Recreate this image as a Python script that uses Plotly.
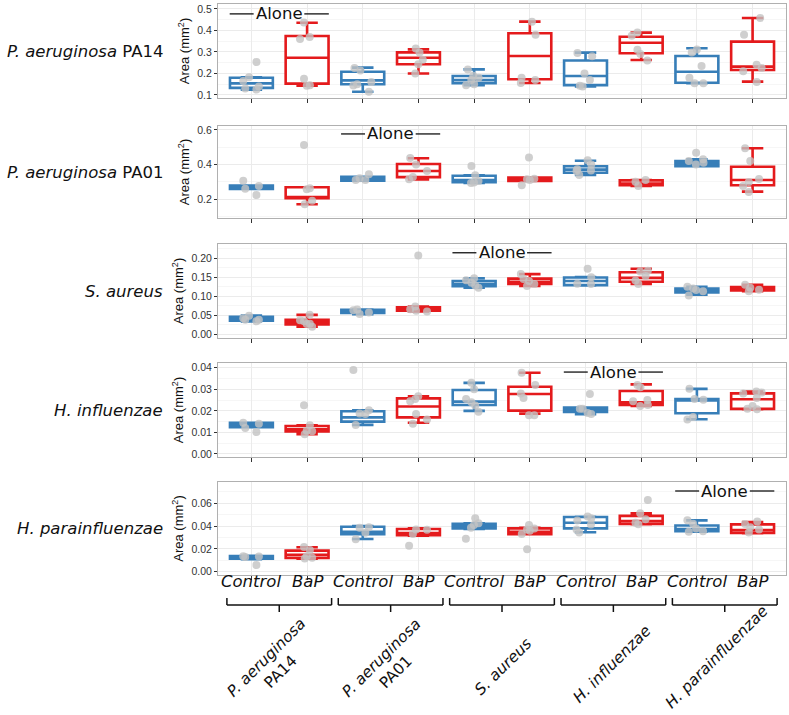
import plotly.graph_objects as go
from plotly.subplots import make_subplots

# ---- data ----
group_labels = ["<i>P. aeruginosa</i><br>PA14", "<i>P. aeruginosa</i><br>PA01",
                "<i>S. aureus</i>", "<i>H. influenzae</i>", "<i>H. parainfluenzae</i>"]
row_labels = ["<i>P. aeruginosa</i> PA14", "<i>P. aeruginosa</i> PA01",
              "<i>S. aureus</i>", "<i>H. influenzae</i>", "<i>H. parainfluenzae</i>"]
conditions = ["Control", "BaP"]

# order of each list: Ctrl/BaP for PA14, PA01, S.aureus, H.infl, H.parainfl
pa14_q1 = [0.133, 0.153, 0.150, 0.243, 0.155, 0.173, 0.146, 0.294, 0.157, 0.216]
pa14_med = [0.154, 0.273, 0.168, 0.273, 0.170, 0.281, 0.188, 0.343, 0.208, 0.232]
pa14_q3 = [0.180, 0.374, 0.208, 0.298, 0.188, 0.387, 0.260, 0.371, 0.281, 0.348]
pa14_lo = [0.125, 0.143, 0.115, 0.200, 0.145, 0.156, 0.140, 0.263, 0.155, 0.162]
pa14_hi = [0.182, 0.436, 0.227, 0.312, 0.219, 0.441, 0.297, 0.390, 0.317, 0.458]
pa14_pts = [[0.253, 0.182, 0.165, 0.125, 0.13, 0.14],
            [0.437, 0.36, 0.37, 0.175, 0.143, 0.145],
            [0.214, 0.226, 0.144, 0.16, 0.15, 0.115],
            [0.316, 0.264, 0.298, 0.243, 0.2],
            [0.219, 0.19, 0.18, 0.17, 0.145, 0.15],
            [0.44, 0.38, 0.18, 0.17, 0.156],
            [0.295, 0.28, 0.2, 0.17, 0.14, 0.143],
            [0.39, 0.375, 0.31, 0.26, 0.29],
            [0.312, 0.297, 0.235, 0.18, 0.155, 0.155],
            [0.458, 0.38, 0.24, 0.225, 0.21, 0.16]]

pa01_q1 = [0.258, 0.204, 0.306, 0.327, 0.297, 0.305, 0.352, 0.280, 0.390, 0.280]
pa01_med = [0.268, 0.212, 0.318, 0.362, 0.310, 0.315, 0.370, 0.290, 0.405, 0.310]
pa01_q3 = [0.278, 0.268, 0.329, 0.403, 0.335, 0.325, 0.390, 0.308, 0.420, 0.387]
pa01_lo = [0.258, 0.170, 0.306, 0.314, 0.293, 0.305, 0.340, 0.275, 0.390, 0.243]
pa01_hi = [0.278, 0.268, 0.329, 0.436, 0.337, 0.325, 0.422, 0.310, 0.430, 0.494]
pa01_pts = [[0.306, 0.26, 0.223, 0.275],
            [0.513, 0.256, 0.262, 0.19, 0.169],
            [0.31, 0.343, 0.31, 0.32],
            [0.438, 0.40, 0.362, 0.327, 0.314],
            [0.391, 0.337, 0.305, 0.295, 0.293],
            [0.44, 0.317, 0.31, 0.315, 0.28],
            [0.425, 0.40, 0.372, 0.362, 0.339, 0.365],
            [0.30, 0.31, 0.275],
            [0.468, 0.42, 0.41, 0.43, 0.40],
            [0.494, 0.42, 0.316, 0.298, 0.275, 0.24]]

sa_q1 = [0.036, 0.026, 0.056, 0.062, 0.126, 0.132, 0.129, 0.138, 0.110, 0.115]
sa_med = [0.040, 0.032, 0.060, 0.066, 0.132, 0.138, 0.140, 0.148, 0.115, 0.120]
sa_q3 = [0.046, 0.038, 0.064, 0.071, 0.140, 0.146, 0.149, 0.163, 0.120, 0.124]
sa_lo = [0.034, 0.020, 0.053, 0.060, 0.122, 0.127, 0.128, 0.132, 0.104, 0.113]
sa_hi = [0.049, 0.051, 0.065, 0.073, 0.147, 0.158, 0.150, 0.172, 0.125, 0.130]
sa_pts = [[0.034, 0.038, 0.049, 0.038, 0.042],
          [0.027, 0.02, 0.051, 0.037, 0.028, 0.034],
          [0.065, 0.053, 0.063, 0.057],
          [0.207, 0.073, 0.06, 0.062, 0.066],
          [0.147, 0.142, 0.128, 0.122, 0.135],
          [0.158, 0.14, 0.127, 0.132, 0.145],
          [0.172, 0.15, 0.132, 0.133],
          [0.165, 0.167, 0.153, 0.141, 0.132],
          [0.125, 0.102, 0.116, 0.12, 0.113],
          [0.13, 0.113, 0.117, 0.122]]

hi_q1 = [0.0124, 0.0105, 0.0150, 0.0170, 0.0227, 0.0201, 0.0195, 0.0228, 0.0189, 0.0209]
hi_med = [0.0135, 0.0115, 0.0170, 0.0220, 0.0243, 0.0278, 0.0205, 0.0240, 0.0248, 0.0254]
hi_q3 = [0.0145, 0.0130, 0.0198, 0.0258, 0.0297, 0.0312, 0.0215, 0.0292, 0.0255, 0.0281]
hi_lo = [0.0124, 0.0092, 0.0135, 0.0145, 0.0200, 0.0187, 0.0185, 0.0223, 0.0161, 0.0208]
hi_hi = [0.0145, 0.0133, 0.0203, 0.0268, 0.0330, 0.0377, 0.0215, 0.0323, 0.0302, 0.0290]
hi_pts = [[0.0102, 0.012, 0.014, 0.0145],
          [0.0092, 0.0226, 0.0133, 0.0108, 0.0106],
          [0.039, 0.0203, 0.0185, 0.0188, 0.0135],
          [0.0268, 0.0245, 0.0255, 0.0185, 0.016, 0.014],
          [0.033, 0.030, 0.0255, 0.024, 0.0225, 0.0196],
          [0.0377, 0.032, 0.028, 0.026, 0.018, 0.018],
          [0.0278, 0.021, 0.021, 0.019, 0.0185],
          [0.032, 0.031, 0.0245, 0.025, 0.0227, 0.0223],
          [0.0302, 0.0255, 0.0252, 0.0172, 0.016],
          [0.028, 0.029, 0.0285, 0.026, 0.0222, 0.0208, 0.021]]

hp_q1 = [0.0115, 0.0120, 0.0328, 0.0320, 0.0380, 0.0330, 0.0380, 0.0420, 0.0355, 0.0340]
hp_med = [0.0125, 0.0148, 0.0350, 0.0340, 0.0400, 0.0350, 0.0430, 0.0445, 0.0375, 0.0365]
hp_q3 = [0.0138, 0.0185, 0.0395, 0.0375, 0.0420, 0.0380, 0.0480, 0.0490, 0.0405, 0.0415]
hp_lo = [0.0110, 0.0115, 0.0287, 0.0316, 0.0374, 0.0330, 0.0346, 0.0416, 0.0351, 0.0337]
hp_hi = [0.0140, 0.0214, 0.0400, 0.0381, 0.0424, 0.0386, 0.0482, 0.0512, 0.0450, 0.0435]
hp_pts = [[0.0136, 0.0059, 0.0133, 0.013],
          [0.0216, 0.019, 0.0122, 0.0135, 0.0115],
          [0.039, 0.0385, 0.0342, 0.0285],
          [0.0368, 0.037, 0.033, 0.0228],
          [0.0425, 0.041, 0.047, 0.0385, 0.029],
          [0.041, 0.038, 0.033, 0.0197, 0.037, 0.036],
          [0.0485, 0.047, 0.045, 0.0415, 0.037, 0.0345],
          [0.063, 0.0512, 0.046, 0.0416, 0.043],
          [0.0452, 0.042, 0.038, 0.0355, 0.035],
          [0.044, 0.0418, 0.039, 0.037, 0.0345]]

# y ranges / ticks per row
y_ranges = [[0.086, 0.523], [0.09, 0.623], [-0.0097, 0.237], [-0.0014, 0.0422], [-0.0029, 0.0787]]
y_dticks = [0.1, 0.2, 0.05, 0.01, 0.02]
y_formats = [".1f", ".1f", ".2f", ".2f", ".2f"]
alone_y = [0.477, 0.577, 0.214, 0.038, 0.0708]

rows = [
    (pa14_q1, pa14_med, pa14_q3, pa14_lo, pa14_hi, pa14_pts),
    (pa01_q1, pa01_med, pa01_q3, pa01_lo, pa01_hi, pa01_pts),
    (sa_q1, sa_med, sa_q3, sa_lo, sa_hi, sa_pts),
    (hi_q1, hi_med, hi_q3, hi_lo, hi_hi, hi_pts),
    (hp_q1, hp_med, hp_q3, hp_lo, hp_hi, hp_pts),
]

W, H = 789, 715
BLUE = "#377EB8"
RED = "#E41A1C"
colors = [BLUE, RED]
# panel pixel extents (top, bottom) and left/right
panel_px = [(4, 98), (126, 218), (244, 338), (363, 457), (482, 575)]
PANEL_L, PANEL_R = 218, 786
STEP = (PANEL_R - PANEL_L) / 10.2
# group name placement under the brackets: (x offset px from group centre, y px of centre)
name_pos = [(-6, 665), (-2, 665), (1, 667), (-1, 664), (-8, 657)]

def px_x(x):
    return x / W

def py(y):
    return 1 - y / H

fig = make_subplots(rows=5, cols=1)

for r, (q1, med, q3, lo, hi, pts) in enumerate(rows):
    for c in range(2):
        idx = list(range(c, 10, 2))
        fig.add_trace(go.Box(
            x=idx,
            q1=[q1[i] for i in idx], median=[med[i] for i in idx], q3=[q3[i] for i in idx],
            lowerfence=[lo[i] for i in idx], upperfence=[hi[i] for i in idx],
            width=0.77, fillcolor="white", line=dict(color=colors[c], width=2.6),
            boxpoints=False, showlegend=False, hoverinfo="skip",
        ), row=r + 1, col=1)
    xs, ys = [], []
    for i, p in enumerate(pts):
        xs += [i] * len(p)
        ys += p
    fig.add_trace(go.Box(
        x=xs, y=ys, boxpoints="all", jitter=0.45, pointpos=0, width=0.77,
        fillcolor="rgba(0,0,0,0)", line=dict(width=0, color="rgba(0,0,0,0)"),
        marker=dict(color="rgba(195,195,195,0.8)", size=8),
        showlegend=False, hoverinfo="skip",
    ), row=r + 1, col=1)

for r in range(5):
    top, bot = panel_px[r]
    fig.update_yaxes(
        domain=[py(bot), py(top)], range=y_ranges[r], dtick=y_dticks[r], tick0=0,
        tickformat=y_formats[r], ticks="outside", ticklen=3, tickcolor="#333",
        tickfont=dict(family="Liberation Sans", size=10.5, color="#333"),
        showgrid=True, gridcolor="#ebebeb", zeroline=False, automargin=False,
        minor=dict(dtick=y_dticks[r] / 2, tick0=0, showgrid=True, gridcolor="#f6f6f6"),
        showline=True, mirror=True, linecolor="#b0b0b0", linewidth=1,
        title=dict(text="Area (mm<sup>2</sup>)", standoff=4,
                   font=dict(family="Liberation Sans", size=13, color="#111")),
        row=r + 1, col=1)
    fig.update_xaxes(
        domain=[px_x(PANEL_L), px_x(PANEL_R)], range=[-0.6, 9.6], tickvals=list(range(10)),
        showticklabels=False, ticks="outside", ticklen=4, tickcolor="#333",
        showgrid=True, gridcolor="#ebebeb", zeroline=False, automargin=False,
        showline=True, mirror=True, linecolor="#b0b0b0", linewidth=1,
        row=r + 1, col=1)

    # row label
    fig.add_annotation(x=px_x(165), y=py((top + bot) / 2), xref="paper", yref="paper",
                       text=row_labels[r], showarrow=False, xanchor="right", yanchor="middle",
                       font=dict(family="DejaVu Sans", size=16.5, color="#111"))
    # "Alone" marker over the matching group
    ax = "x" if r == 0 else "x%d" % (r + 1)
    ay = "y" if r == 0 else "y%d" % (r + 1)
    gc = 2 * r + 0.5
    fig.add_annotation(x=gc, y=alone_y[r], xref=ax, yref=ay, text="Alone", showarrow=False,
                       font=dict(family="DejaVu Sans", size=16.5, color="#111"))
    for x0, x1 in [(gc - 0.89, gc - 0.46), (gc + 0.45, gc + 0.89)]:
        fig.add_shape(type="line", x0=x0, x1=x1, y0=alone_y[r], y1=alone_y[r],
                      xref=ax, yref=ay, line=dict(color="#111", width=1.3))

# condition labels, brackets and group names under the bottom panel
for i in range(10):
    fig.add_annotation(x=i, y=py(593), xref="x5", yref="paper",
                       text="<i>%s</i>" % conditions[i % 2], showarrow=False,
                       font=dict(family="DejaVu Sans", size=16.5, color="#111"))
for g in range(5):
    gc = 2 * g + 0.5
    lc = dict(color="#111", width=1.5)
    fig.add_shape(type="line", x0=gc - 0.94, x1=gc + 0.94, y0=py(605), y1=py(605),
                  xref="x5", yref="paper", line=lc)
    for xe in (gc - 0.94, gc + 0.94):
        fig.add_shape(type="line", x0=xe, x1=xe, y0=py(598), y1=py(605),
                      xref="x5", yref="paper", line=lc)
    fig.add_shape(type="line", x0=gc, x1=gc, y0=py(605), y1=py(612),
                  xref="x5", yref="paper", line=lc)
    dx, cy = name_pos[g]
    fig.add_annotation(x=gc + dx / STEP, y=py(cy), xref="x5", yref="paper", text=group_labels[g],
                       showarrow=False, textangle=-45, xanchor="center", yanchor="middle",
                       font=dict(family="DejaVu Sans", size=15.5, color="#111"))

fig.update_layout(
    width=W, height=H, margin=dict(l=0, r=0, t=0, b=0, pad=0),
    plot_bgcolor="white", paper_bgcolor="white", boxmode="overlay",
    showlegend=False,
)

# drop the browser's default 8px page margin so the figure sits at the window corner
fig.write_html("out.html", config={"displayModeBar": False},
               post_script="document.body.style.margin = '0';")
